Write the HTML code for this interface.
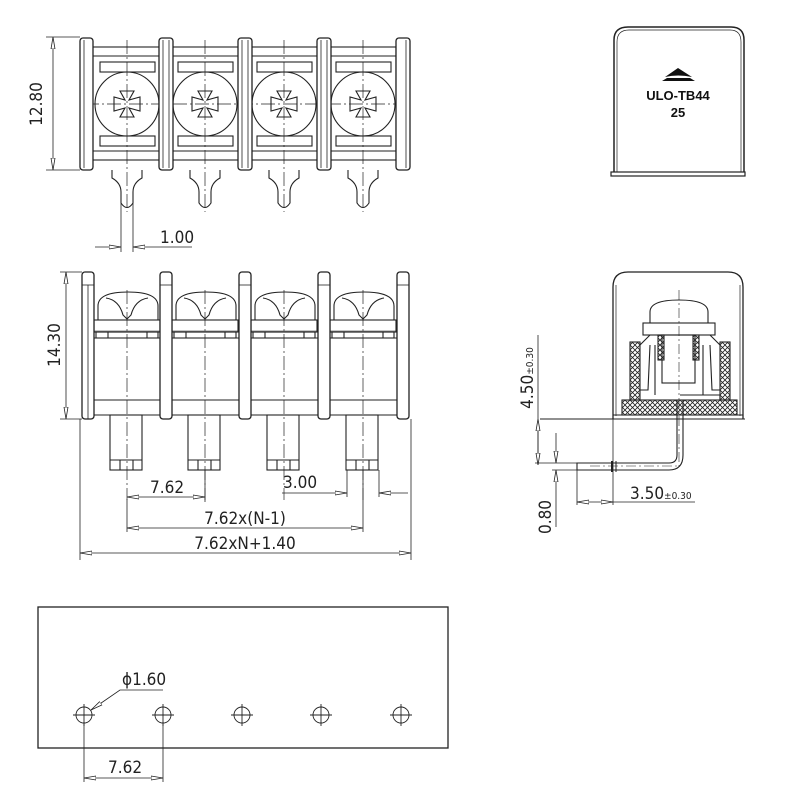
<!DOCTYPE html>
<html><head><style>
html,body{margin:0;padding:0;background:#fff;}
svg{display:block}
text{font-family:"Liberation Sans",sans-serif;fill:#222;}
.d{font-family:"DejaVu Sans Condensed","Liberation Sans Narrow","Liberation Sans",sans-serif;font-size:17px;font-weight:200;}
</style></head><body>
<svg width="800" height="800" viewBox="0 0 800 800" xmlns="http://www.w3.org/2000/svg">
<defs>
<pattern id="h" width="5" height="5" patternUnits="userSpaceOnUse">
<path d="M0,0L5,5M5,0L0,5" stroke="#222" stroke-width="0.8"/>
</pattern>
<marker id="a" viewBox="0 0 12 6" refX="12" refY="3" markerWidth="12" markerHeight="6" orient="auto-start-reverse" markerUnits="userSpaceOnUse">
<path d="M0,1L12,3L0,5Z" fill="#fff" stroke="#222" stroke-width="0.8"/>
</marker>
</defs>
<g fill="none" stroke="#222" stroke-width="1.1">

<!-- ===== TOP VIEW ===== -->
<g>
<rect x="92" y="47" width="304" height="113"/>
<line x1="92" y1="56" x2="396" y2="56"/>
<line x1="92" y1="151" x2="396" y2="151"/>
<g id="cellT">
<rect x="100" y="62" width="55" height="10"/>
<rect x="100" y="136" width="55" height="10"/>
<circle cx="127" cy="104" r="32"/>
<path d="M120,91 L134,91 L129,100 L140,97 L140,111 L129,108 L134,117 L120,117 L125,108 L114,111 L114,97 L125,100Z"/>
<line x1="127" y1="40" x2="127" y2="212" stroke-width="0.7" stroke-dasharray="14,3,2,3"/>
<path d="M112,170 L112,178 Q121,183 121,192 L121,203 Q127,212 133,203 L133,192 Q133,183 142,178 L142,170"/>
</g>
<use href="#cellT" x="78"/>
<use href="#cellT" x="157"/>
<use href="#cellT" x="236"/>
<line x1="85" y1="104" x2="405" y2="104" stroke-width="0.7" stroke-dasharray="14,3,2,3"/>
<g fill="#fff" stroke-width="1.3">
<rect x="80" y="38" width="13" height="132" rx="3"/>
<rect x="159" y="38" width="14" height="132" rx="3"/>
<rect x="238" y="38" width="14" height="132" rx="3"/>
<rect x="317" y="38" width="14" height="132" rx="3"/>
<rect x="396" y="38" width="14" height="132" rx="3"/>
</g>
<g stroke-width="0.8">
<line x1="84" y1="40" x2="84" y2="168"/><line x1="163" y1="40" x2="163" y2="168"/><line x1="169" y1="40" x2="169" y2="168"/>
<line x1="242" y1="40" x2="242" y2="168"/><line x1="248" y1="40" x2="248" y2="168"/>
<line x1="321" y1="40" x2="321" y2="168"/><line x1="327" y1="40" x2="327" y2="168"/>
<line x1="406" y1="40" x2="406" y2="168"/>
</g>
<!-- 12.80 -->
<line x1="46" y1="37" x2="80" y2="37" stroke-width="0.8"/>
<line x1="46" y1="170" x2="80" y2="170" stroke-width="0.8"/>
<line x1="53" y1="37" x2="53" y2="170" stroke-width="0.8" marker-start="url(#a)" marker-end="url(#a)"/>
<!-- 1.00 -->
<line x1="121" y1="200" x2="121" y2="252" stroke-width="0.8"/>
<line x1="133" y1="200" x2="133" y2="252" stroke-width="0.8"/>
<line x1="95" y1="247" x2="121" y2="247" stroke-width="0.8" marker-end="url(#a)"/>
<line x1="133" y1="247" x2="192" y2="247" stroke-width="0.8"/>
<path d="M145,247 L133,247" stroke-width="0.8" marker-end="url(#a)"/>
</g>

<!-- ===== FRONT VIEW ===== -->
<g>
<g id="cellF">
<path d="M98,320 L98,306 Q98,292 128,292 Q158,292 158,306 L158,320"/>
<path d="M106,298 Q119,300 123,315 L127,319 L131,315 Q135,300 148,298"/>
<rect x="94" y="320" width="66" height="12"/>
<line x1="94" y1="331" x2="160" y2="331" stroke-width="0.6"/>
<rect x="96" y="332" width="62" height="6"/>
<line x1="108" y1="332" x2="108" y2="338"/><line x1="147" y1="332" x2="147" y2="338"/>
<rect x="110" y="415" width="32" height="55"/>
<line x1="110" y1="460" x2="142" y2="460"/>
<line x1="120" y1="460" x2="120" y2="470"/><line x1="133" y1="460" x2="133" y2="470"/>
<line x1="127" y1="290" x2="127" y2="500" stroke-width="0.7" stroke-dasharray="14,3,2,3"/>
</g>
<use href="#cellF" x="78"/>
<use href="#cellF" x="157"/>
<use href="#cellF" x="236"/>
<line x1="93" y1="338" x2="397" y2="338"/>
<line x1="93" y1="400" x2="397" y2="400"/>
<line x1="93" y1="415" x2="397" y2="415"/>
<g fill="#fff" stroke-width="1.3">
<rect x="82" y="272" width="12" height="147" rx="3"/>
<rect x="160" y="272" width="12" height="147" rx="3"/>
<rect x="239" y="272" width="12" height="147" rx="3"/>
<rect x="318" y="272" width="12" height="147" rx="3"/>
<rect x="397" y="272" width="12" height="147" rx="3"/>
</g>
<g stroke-width="0.8">
<line x1="82" y1="285" x2="94" y2="285"/><line x1="160" y1="285" x2="172" y2="285"/><line x1="239" y1="285" x2="251" y2="285"/><line x1="318" y1="285" x2="330" y2="285"/><line x1="397" y1="285" x2="409" y2="285"/>
<line x1="88" y1="285" x2="88" y2="419"/>
</g>
<!-- dims -->
<g stroke-width="0.8">
<line x1="60" y1="272" x2="82" y2="272"/>
<line x1="60" y1="419" x2="82" y2="419"/>
<line x1="66" y1="272" x2="66" y2="419" marker-start="url(#a)" marker-end="url(#a)"/>
<line x1="80" y1="419" x2="80" y2="560"/>
<line x1="411" y1="419" x2="411" y2="560"/>
<line x1="205" y1="470" x2="205" y2="502"/>
<line x1="127" y1="499" x2="127" y2="532"/>
<line x1="363" y1="470" x2="363" y2="532"/>
<line x1="347" y1="470" x2="347" y2="497"/>
<line x1="379" y1="470" x2="379" y2="497"/>
<line x1="127" y1="497" x2="205" y2="497" marker-start="url(#a)" marker-end="url(#a)"/>
<line x1="282" y1="493" x2="347" y2="493" marker-end="url(#a)"/>
<line x1="408" y1="493" x2="379" y2="493" marker-end="url(#a)"/>
<line x1="127" y1="528" x2="363" y2="528" marker-start="url(#a)" marker-end="url(#a)"/>
<line x1="80" y1="553" x2="411" y2="553" marker-start="url(#a)" marker-end="url(#a)"/>
</g>
</g>

<!-- ===== TOP RIGHT COVER ===== -->
<path d="M614,172 L614,40 Q614,27 628,27 L731,27 Q744,27 744,40 L744,172" stroke-width="1.5"/>
<path d="M617,172 L617,42 Q617,30 629,30 L730,30 Q741,30 741,42 L741,172" stroke-width="0.7"/>
<rect x="611" y="172" width="134" height="4" stroke-width="1.2"/>

<!-- ===== SIDE VIEW ===== -->
<path d="M613,419 L613,287 Q613,272 628,272 L728,272 Q743,272 743,287 L743,419" stroke-width="1.3"/>
<line x1="616" y1="285" x2="616" y2="416" stroke-width="0.7"/>
<line x1="740" y1="285" x2="740" y2="416" stroke-width="0.7"/>
<line x1="613" y1="415" x2="743" y2="415"/>
<line x1="540" y1="419" x2="745" y2="419"/>
<rect x="622" y="400" width="115" height="15" fill="url(#h)"/>
<rect x="630" y="342" width="10" height="58" fill="url(#h)"/>
<rect x="720" y="342" width="10" height="58" fill="url(#h)"/>
<path d="M650,323 L650,312 Q650,300 679,300 Q708,300 708,312 L708,323"/>
<rect x="643" y="323" width="72" height="12" fill="#fff"/>
<rect x="662" y="335" width="33" height="48"/>
<rect x="658" y="335" width="6" height="25" fill="url(#h)"/>
<rect x="693" y="335" width="6" height="25" fill="url(#h)"/>
<path d="M640,345 L650,335 L658,335 M640,390 L648,390 L650,345 M720,345 L710,335 L699,335 M720,390 L712,390 L710,345"/>
<path d="M655,345 L655,395 M703,345 L703,395 M680,395 L720,395 L720,400"/>
<path d="M677,400 L677,455 Q677,463 669,463 L577,463 L577,470 L669,470 Q683,470 683,455 L683,400"/>
<line x1="679" y1="290" x2="679" y2="470" stroke-width="0.6" stroke-dasharray="10,3,2,3"/>
<line x1="590" y1="466" x2="680" y2="466" stroke-width="0.6" stroke-dasharray="10,3,2,3"/>
<line x1="612" y1="461" x2="612" y2="472" stroke-width="2"/>
<line x1="616" y1="461" x2="616" y2="472" stroke-width="1"/>
<!-- dims -->
<g stroke-width="0.8">
<line x1="538" y1="335" x2="538" y2="465"/>
<line x1="538" y1="419" x2="538" y2="465" marker-start="url(#a)" marker-end="url(#a)"/>
<line x1="535" y1="463" x2="577" y2="463"/>
<line x1="552" y1="470" x2="577" y2="470"/>
<line x1="556" y1="433" x2="556" y2="463" marker-end="url(#a)"/>
<line x1="556" y1="527" x2="556" y2="470" marker-end="url(#a)"/>
<line x1="577" y1="470" x2="577" y2="505"/>
<line x1="613" y1="419" x2="613" y2="505"/>
<line x1="577" y1="502" x2="613" y2="502" marker-start="url(#a)" marker-end="url(#a)"/>
<line x1="613" y1="502" x2="695" y2="502"/>
</g>

<!-- ===== BOTTOM PCB ===== -->
<rect x="38" y="607" width="410" height="141" stroke-width="1.3"/>
<g id="hole" stroke-width="0.9">
<circle cx="84" cy="715" r="8"/>
<line x1="73" y1="715" x2="95" y2="715"/>
<line x1="84" y1="704" x2="84" y2="726"/>
</g>
<use href="#hole" x="79"/>
<use href="#hole" x="158"/>
<use href="#hole" x="237"/>
<use href="#hole" x="317"/>
<g stroke-width="0.8">
<path d="M163,690 L120,690 L91,710" marker-end="url(#a)"/>
<line x1="84" y1="723" x2="84" y2="782"/>
<line x1="163" y1="723" x2="163" y2="782"/>
<line x1="84" y1="778" x2="163" y2="778" marker-start="url(#a)" marker-end="url(#a)"/>
</g>
</g>

<!-- text -->
<text class="d" transform="translate(42,104) rotate(-90)" text-anchor="middle">12.80</text>
<text class="d" x="160" y="243">1.00</text>
<text class="d" transform="translate(60,345) rotate(-90)" text-anchor="middle">14.30</text>
<text class="d" x="150" y="493">7.62</text>
<text class="d" x="283" y="488">3.00</text>
<text class="d" x="245" y="524" text-anchor="middle">7.62x(N-1)</text>
<text class="d" x="245" y="549" text-anchor="middle">7.62xN+1.40</text>
<text class="d" transform="translate(533,378) rotate(-90)" text-anchor="middle" font-size="16">4.50<tspan font-size="10">±0.30</tspan></text>
<text class="d" transform="translate(551,517) rotate(-90)" text-anchor="middle" font-size="16">0.80</text>
<text class="d" x="630" y="499" font-size="16">3.50<tspan font-size="10">±0.30</tspan></text>
<text class="d" x="122" y="685">ϕ1.60</text>
<text class="d" x="108" y="773">7.62</text>

<!-- logo & cover text -->
<path d="M665,77 L678,68 L692,77 Q678,74 665,77Z M662,81 L695,81 L690,78 L667,78Z" fill="#111"/>
<text x="678" y="100" text-anchor="middle" font-size="13" font-weight="bold" style="fill:#111">ULO-TB44</text>
<text x="678" y="117" text-anchor="middle" font-size="13" font-weight="bold" style="fill:#111">25</text>
</svg>
</body></html>
